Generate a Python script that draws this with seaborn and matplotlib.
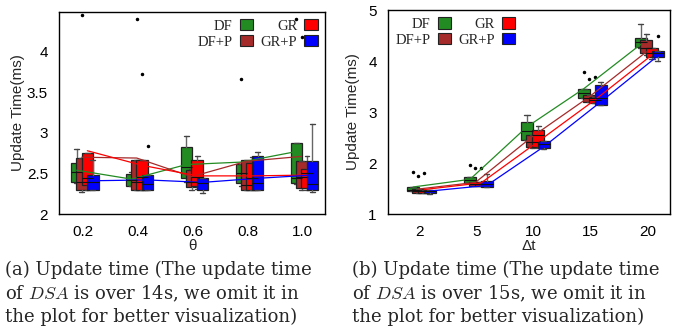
import pandas as pd
import matplotlib
matplotlib.use('Agg')
import matplotlib.pyplot as plt
import seaborn as sns
from matplotlib.patches import Patch

# Series and category labels
series = ['DF', 'DF+P', 'GR', 'GR+P']
theta_labels = ['0.2', '0.4', '0.6', '0.8', '1.0']
dt_labels = ['2', '5', '10', '15', '20']

# (a) update time vs theta : box statistics (ms)
a_q1 = {'DF': [2.39, 2.35, 2.44, 2.38, 2.38], 'DF+P': [2.29, 2.29, 2.33, 2.29, 2.32],
        'GR': [2.36, 2.29, 2.34, 2.29, 2.32], 'GR+P': [2.29, 2.29, 2.29, 2.29, 2.29]}
a_med = {'DF': [2.52, 2.42, 2.58, 2.50, 2.45], 'DF+P': [2.40, 2.39, 2.40, 2.36, 2.46],
         'GR': [2.44, 2.46, 2.46, 2.44, 2.50], 'GR+P': [2.40, 2.37, 2.38, 2.38, 2.37]}
a_q3 = {'DF': [2.63, 2.49, 2.82, 2.62, 2.88], 'DF+P': [2.69, 2.67, 2.54, 2.67, 2.65],
        'GR': [2.75, 2.67, 2.66, 2.63, 2.56], 'GR+P': [2.48, 2.48, 2.44, 2.72, 2.65]}
a_lo = {'DF': [2.38, 2.35, 2.40, 2.35, 2.37], 'DF+P': [2.27, 2.29, 2.30, 2.29, 2.30],
        'GR': [2.29, 2.29, 2.31, 2.29, 2.30], 'GR+P': [2.29, 2.29, 2.26, 2.29, 2.27]}
a_hi = {'DF': [2.80, 2.52, 2.96, 2.62, 2.88], 'DF+P': [2.69, 2.67, 2.56, 2.67, 2.65],
        'GR': [2.75, 2.67, 2.72, 2.70, 2.72], 'GR+P': [2.67, 2.48, 2.44, 2.76, 3.11]}
a_out = {'DF': [[], [], [], [3.67], [4.40]], 'DF+P': [[4.45], [4.41], [], [4.16], [4.18]],
         'GR': [[], [3.72], [], [], []], 'GR+P': [[], [2.84], [], [], []]}
a_mean = {'DF': [2.54, 2.43, 2.61, 2.64, 2.77], 'DF+P': [2.70, 2.69, 2.46, 2.65, 2.71],
          'GR': [2.78, 2.60, 2.47, 2.47, 2.48], 'GR+P': [2.41, 2.42, 2.39, 2.44, 2.48]}

# (b) update time vs delta t : box statistics (ms)
b_q1 = {'DF': [1.46, 1.61, 2.45, 3.27, 4.28], 'DF+P': [1.42, 1.55, 2.32, 3.20, 4.15],
        'GR': [1.42, 1.54, 2.32, 3.17, 4.08], 'GR+P': [1.41, 1.52, 2.29, 3.14, 4.07]}
b_med = {'DF': [1.48, 1.66, 2.62, 3.37, 4.38], 'DF+P': [1.46, 1.58, 2.42, 3.27, 4.25],
         'GR': [1.45, 1.58, 2.55, 3.24, 4.15], 'GR+P': [1.45, 1.58, 2.37, 3.28, 4.15]}
b_q3 = {'DF': [1.52, 1.73, 2.81, 3.46, 4.46], 'DF+P': [1.50, 1.63, 2.55, 3.33, 4.42],
        'GR': [1.48, 1.63, 2.65, 3.30, 4.25], 'GR+P': [1.48, 1.65, 2.44, 3.53, 4.20]}
b_lo = {'DF': [1.46, 1.60, 2.45, 3.27, 4.25], 'DF+P': [1.41, 1.55, 2.30, 3.20, 4.12],
        'GR': [1.41, 1.54, 2.30, 3.17, 4.05], 'GR+P': [1.40, 1.52, 2.27, 3.14, 4.01]}
b_hi = {'DF': [1.52, 1.73, 2.94, 3.46, 4.72], 'DF+P': [1.50, 1.63, 2.55, 3.33, 4.54],
        'GR': [1.48, 1.63, 2.73, 3.30, 4.25], 'GR+P': [1.48, 1.78, 2.44, 3.58, 4.20]}
b_out = {'DF': [[1.83], [1.97], [], [3.79], []], 'DF+P': [[1.75], [1.90], [], [3.65], []],
         'GR': [[1.81], [1.91], [], [3.68], []], 'GR+P': [[], [], [], [], [4.49]]}
b_mean = {'DF': [1.53, 1.68, 2.71, 3.46, 4.33], 'DF+P': [1.49, 1.62, 2.52, 3.30, 4.18],
          'GR': [1.48, 1.61, 2.42, 3.24, 4.12], 'GR+P': [1.45, 1.56, 2.32, 3.20, 4.10]}

colors = {'DF': '#228b22', 'DF+P': '#a52a2a', 'GR': '#ff0000', 'GR+P': '#0000ff'}
offsets = {'DF': -0.12, 'DF+P': -0.025, 'GR': 0.075, 'GR+P': 0.175}
width = 0.21

sns.set_theme(style='white')
plt.rcParams['font.family'] = ['Liberation Sans', 'DejaVu Sans']
plt.rcParams['mathtext.fontset'] = 'cm'

fig = plt.figure(figsize=(6.73, 3.30), dpi=100)
ax1 = fig.add_axes([0.0877, 0.3515, 0.395, 0.612])
ax2 = fig.add_axes([0.5765, 0.3515, 0.419, 0.618])


def draw(ax, labels, q1, med, q3, lo, hi, out, mean):
    rows = []
    for s in series:
        stats = []
        pos = []
        for i in range(len(labels)):
            stats.append(dict(q1=q1[s][i], med=med[s][i], q3=q3[s][i],
                              whislo=lo[s][i], whishi=hi[s][i], fliers=out[s][i]))
            pos.append(i + offsets[s])
            rows.append({'x': i + offsets[s], 'y': mean[s][i], 'series': s})
        ax.bxp(stats, positions=pos, widths=width, capwidths=0.09, patch_artist=True,
               showfliers=True, manage_ticks=False,
               boxprops=dict(facecolor=colors[s], edgecolor='#222222', linewidth=0.9),
               medianprops=dict(color='#111111', linewidth=0.8),
               whiskerprops=dict(color='#666666', linewidth=1.0),
               capprops=dict(color='#444444', linewidth=1.0),
               flierprops=dict(marker='.', markersize=3, markerfacecolor='black',
                               markeredgecolor='black'))
    df = pd.DataFrame(rows)
    sns.lineplot(data=df, x='x', y='y', hue='series', palette=colors, ax=ax,
                 linewidth=0.9, legend=False)
    ax.set_xticks(range(len(labels)))
    ax.set_xticklabels(labels)
    ax.tick_params(direction='in', length=3, width=0.6, labelsize=11, colors='black',
                   pad=8)
    for sp in ax.spines.values():
        sp.set_color('black')
        sp.set_linewidth(1.0)
    handles = [Patch(facecolor=colors[s], edgecolor='#222222', linewidth=0.8, label=s)
               for s in series]
    return handles


leg_kw = dict(ncol=2, frameon=False, markerfirst=False,
              prop={'family': 'Liberation Serif', 'size': 10.5}, handlelength=0.9,
              handleheight=0.8, handletextpad=0.5, columnspacing=0.5, labelspacing=0.15,
              borderaxespad=0.1)

handles = draw(ax1, theta_labels, a_q1, a_med, a_q3, a_lo, a_hi, a_out, a_mean)
ax1.set_xlim(-0.44, 4.4)
ax1.set_ylim(2, 4.49)
ax1.set_yticks([2, 2.5, 3, 3.5, 4])
ax1.set_yticklabels(['2', '2.5', '3', '3.5', '4'])
ax1.set_xlabel('θ', fontsize=11, labelpad=0)
ax1.set_ylabel('Update Time(ms)', fontsize=11, labelpad=1)
ax1.legend(handles=handles, loc='upper right', **leg_kw)

handles = draw(ax2, dt_labels, b_q1, b_med, b_q3, b_lo, b_hi, b_out, b_mean)
ax2.set_xlim(-0.56, 4.39)
ax2.set_ylim(1, 5)
ax2.set_yticks([1, 2, 3, 4, 5])
ax2.set_xlabel('Δt', fontsize=11, labelpad=0)
ax2.set_ylabel('Update Time(ms)', fontsize=11, labelpad=6)
ax2.legend(handles=handles, loc='upper left', **leg_kw)

cap_a = '(a) Update time (The update time\nof $DSA$ is over 14s, we omit it in\nthe plot for better visualization)'
cap_b = '(b) Update time (The update time\nof $DSA$ is over 15s, we omit it in\nthe plot for better visualization)'
fig.text(5 / 673, 1 - 261 / 330, cap_a, ha='left', va='top', fontsize=13,
         family='DejaVu Serif', linespacing=1.27)
fig.text(352 / 673, 1 - 261 / 330, cap_b, ha='left', va='top', fontsize=13,
         family='DejaVu Serif', linespacing=1.27)

fig.savefig('out.png', dpi=100)
